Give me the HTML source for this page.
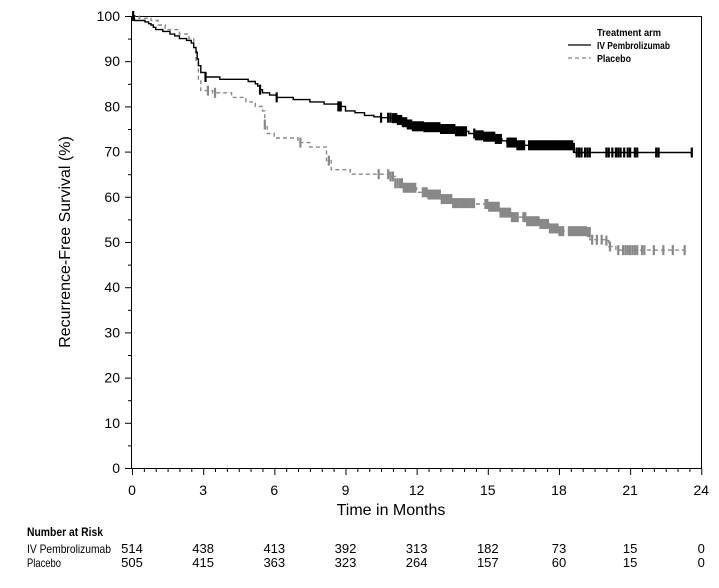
<!DOCTYPE html>
<html><head><meta charset="utf-8"><style>
html,body{margin:0;padding:0;background:#fff}
svg{display:block}
text{font-family:"Liberation Sans",Arial,sans-serif}
</style></head><body>
<svg id="s" width="719" height="588" viewBox="0 0 719 588" xmlns="http://www.w3.org/2000/svg">
<rect x="0" y="0" width="719" height="588" fill="#fff"/>
<g id="axes" stroke="#000" stroke-width="1" fill="none"></g>
<g id="curves"></g>
<g font-size="14" fill="#000" text-anchor="end" id="ylab"></g>
<g font-size="14" fill="#000" text-anchor="middle" id="xlab"></g>
<text x="391" y="515" font-size="16" text-anchor="middle">Time in Months</text>
<text transform="translate(70,242) rotate(-90)" font-size="16" text-anchor="middle">Recurrence-Free Survival (%)</text>
<g font-size="10" font-weight="bold">
<text x="597" y="36" textLength="64" lengthAdjust="spacingAndGlyphs">Treatment arm</text>
<text x="597" y="49" textLength="73" lengthAdjust="spacingAndGlyphs">IV Pembrolizumab</text>
<text x="597" y="62" textLength="34" lengthAdjust="spacingAndGlyphs">Placebo</text>
</g>
<line x1="568" y1="45" x2="591" y2="45" stroke="#000" stroke-width="1.3"/>
<line x1="568" y1="58" x2="591" y2="58" stroke="#888" stroke-width="1.3" stroke-dasharray="4,3"/>
<text x="27" y="536" font-size="12" font-weight="bold" textLength="76" lengthAdjust="spacingAndGlyphs">Number at Risk</text>
<text x="27" y="553" font-size="12" textLength="84" lengthAdjust="spacingAndGlyphs">IV Pembrolizumab</text>
<text x="27" y="567" font-size="12" textLength="34" lengthAdjust="spacingAndGlyphs">Placebo</text>
<g font-size="13" text-anchor="middle" id="risk"></g>
</svg>
<script>
var NS="http://www.w3.org/2000/svg";
function el(p,t,a,txt){var e=document.createElementNS(NS,t);for(var k in a)e.setAttribute(k,a[k]);if(txt!==undefined)e.textContent=txt;document.getElementById(p).appendChild(e);return e;}
var X0=132,XS=23.72,Y0=468,YS=4.52;
function X(t){return X0+t*XS}function Y(v){return Y0-v*YS}
el("axes","path",{d:"M131.5,16.5 H701.5 V468.5 H131.5 Z"});
for(var v=0;v<=100;v+=5){var y=Y(v)+0.5;el("axes","line",{x1:v%10==0?125:128,y1:y,x2:131.5,y2:y});if(v%10==0)el("ylab","text",{x:120,y:Y(v)+5},String(v));}
for(var h=0;h<=48;h++){var x=X(h/2)+0.5;el("axes","line",{x1:x,y1:468.5,x2:x,y2:h%6==0?475:472});}
for(var m=0;m<=24;m+=3)el("xlab","text",{x:X(m),y:495},String(m));
var r1=[514,438,413,392,313,182,73,15,0],r2=[505,415,363,323,264,157,60,15,0];
for(var i=0;i<9;i++){el("risk","text",{x:X(i*3),y:553},r1[i]);el("risk","text",{x:X(i*3),y:567},r2[i]);}
var P=[[0,100],[0.1,99],[0.55,98.7],[0.7,98.3],[0.8,98],[0.9,97.5],[1,97],[1.3,96.6],[1.6,96],[1.8,95.6],[2.0,95],[2.3,94.6],[2.5,94],[2.6,93],[2.7,92],[2.75,90.5],[2.8,89],[2.9,87.5],[3.1,86.5],[3.7,86],[4.9,85.5],[5.2,85],[5.3,84.5],[5.4,83.7],[5.5,83],[5.8,82.5],[6.1,82],[6.8,81.5],[7.5,81],[8.1,80.5],[8.7,80],[9.0,79],[9.4,78.6],[9.8,78],[10.2,77.7],[10.5,77.5],[11.0,77.4],[11.2,77],[11.4,76.5],[11.6,76],[11.8,75.6],[12.3,75.4],[13.0,75],[13.6,74.5],[14.2,74],[14.5,73.6],[14.8,73.3],[15.3,72.8],[15.6,72.4],[15.8,72],[16.2,71.4],[18.6,70.8],[18.65,69.8],[23.6,69.8]];
var Q=[[0,100],[0.3,99.5],[0.8,99],[1.1,98],[1.4,97],[2.0,96],[2.4,95],[2.6,93],[2.7,90],[2.8,86],[2.9,83.5],[3.4,83],[4.2,82],[4.8,81],[5.2,80],[5.5,79],[5.6,76],[5.7,74],[6.0,73],[7.0,72],[7.5,71],[8.0,71],[8.2,68],[8.4,66],[9.2,65],[10.7,65],[10.9,64.5],[11.1,63],[11.4,62],[12.0,61],[12.5,60.5],[13.0,59.5],[13.5,58.6],[14.5,58.4],[15.0,57.8],[15.5,56.5],[16.0,55.5],[16.6,54.6],[17.2,54],[17.6,53],[18.0,52.4],[19.2,52.2],[19.3,50.5],[20.0,50.3],[20.1,49],[20.4,48.2],[23.3,48.2]];
function path(d){var s="M"+X(d[0][0]).toFixed(1)+","+Y(d[0][1]).toFixed(1);for(var i=1;i<d.length;i++){s+=" H"+X(d[i][0]).toFixed(1)+" V"+Y(d[i][1]).toFixed(1);}return s;}
function valAt(d,t){var v=d[0][1];for(var i=0;i<d.length;i++){if(d[i][0]<=t)v=d[i][1];}return v;}
el("curves","path",{d:path(Q),fill:"none",stroke:"#888","stroke-width":1.4,"stroke-dasharray":"4,3"});
el("curves","path",{d:path(P),fill:"none",stroke:"#000","stroke-width":1.4});
function cens(d,list,col){for(var i=0;i<list.length;i++){var t=list[i],x=X(t),y=Y(valAt(d,t));el("curves","line",{x1:x,y1:y-5,x2:x,y2:y+5,stroke:col,"stroke-width":2.2});}}
var pc=[0.05,3.1,5.4,6.1,8.7,8.75,8.8,10.5,10.8,10.9];
for(var t=11.0;t<18.7;t+=0.07){ if((t>14.1&&t<14.4)||(t>15.6&&t<15.8)||(t>16.6&&t<16.7))continue;pc.push(t);}
[18.75,18.85,18.95,19.1,19.2,19.3,20.0,20.1,20.25,20.4,20.5,20.6,20.75,20.9,21.0,21.2,21.3,22.1,22.2,23.6].forEach(function(t){pc.push(t)});
cens(P,pc,"#000");
var qc=[3.2,3.5,5.6,7.1,8.3,10.4,10.8,10.9,11.0,11.1,11.2];
for(var t=11.3;t<19.3;t+=0.08){ if((t>12.0&&t<12.2)||(t>14.5&&t<14.9)||(t>16.3&&t<16.45)||(t>18.2&&t<18.4))continue;qc.push(t);}
[19.4,19.6,19.8,20.0,20.15,20.5,20.7,20.8,20.9,21.0,21.1,21.2,21.3,21.5,21.6,22.0,22.4,22.8,23.3].forEach(function(t){qc.push(t)});
cens(Q,qc,"#888");
</script>
</body></html>
